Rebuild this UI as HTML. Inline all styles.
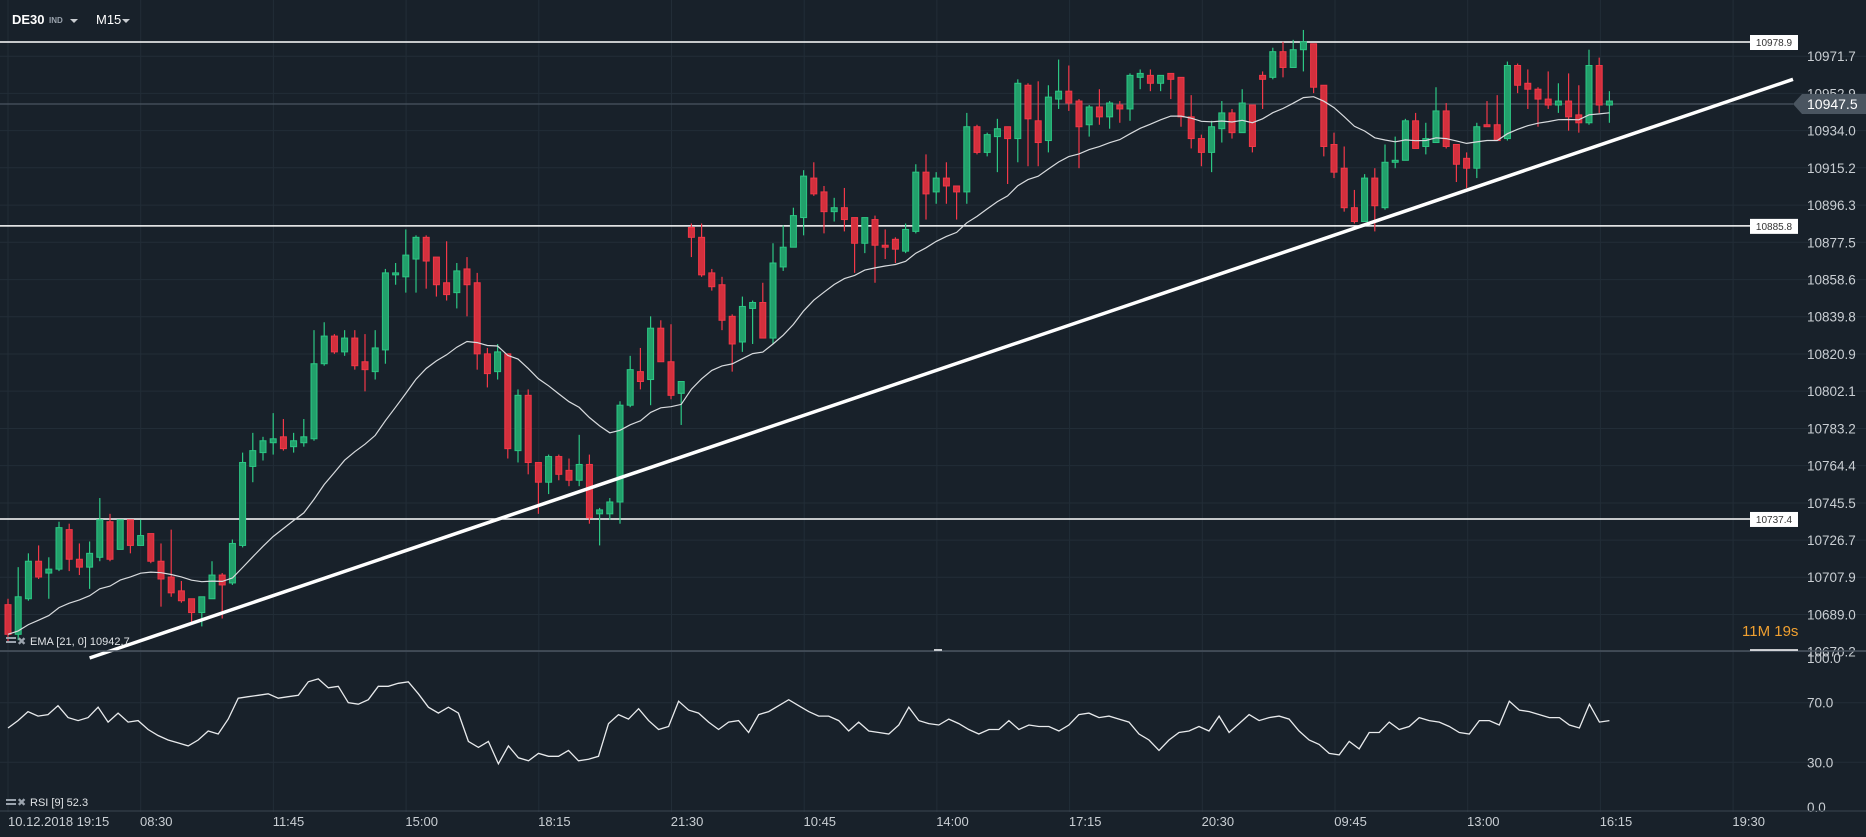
<!DOCTYPE html>
<html><head><meta charset="utf-8"><style>
html,body{margin:0;padding:0;background:#18212a;width:1866px;height:837px;overflow:hidden;font-family:"Liberation Sans",sans-serif}
svg{display:block}
</style></head><body>
<svg id="chart" width="1866" height="837" viewBox="0 0 1866 837" xmlns="http://www.w3.org/2000/svg">
<rect x="0" y="0" width="1866" height="837" fill="#18212a"/>
<g id="grid"></g>
<g id="hlines"></g>
<g id="candles"></g>
<g id="ema"></g>
<g id="trend"></g>
<g id="rsi"></g>
<g id="axes"></g>
<g>
<text x="12" y="24" fill="#ffffff" font-size="13" font-weight="bold">DE30</text>
<text x="49" y="23" fill="#9aa3ad" font-size="8" font-weight="bold">IND</text>
<path d="M70 19 L78 19 L74 23 Z" fill="#c8ccd0"/>
<text x="96" y="24" fill="#ffffff" font-size="13">M15</text>
<path d="M122 19 L130 19 L126 23 Z" fill="#c8ccd0"/>
</g>
<g>
<rect x="6" y="637" width="10" height="2" fill="#9aa3ad"/><rect x="6" y="641" width="10" height="2" fill="#9aa3ad"/>
<text x="17" y="645" fill="#9aa3ad" font-size="11">✖</text>
<text x="30" y="645" fill="#e0e3e6" font-size="11">EMA  [21, 0]  10942.7</text>
</g>
<g>
<rect x="6" y="799" width="10" height="2" fill="#9aa3ad"/><rect x="6" y="803" width="10" height="2" fill="#9aa3ad"/>
<text x="17" y="806" fill="#9aa3ad" font-size="11">✖</text>
<text x="30" y="806" fill="#e0e3e6" font-size="11">RSI  [9]  52.3</text>
</g>
<text x="1742" y="636" fill="#f0a030" font-size="15">11M 19s</text>
</svg>
<script>
const opens=[10694,10679,10697,10716,10710,10712,10732,10717,10713,10718,10736,10722,10737,10724,10730,10716,10708,10701,10697,10690,10697,10709,10705,10724,10764,10771,10776,10779,10774,10776,10778,10816,10830,10822,10829,10817,10812,10823,10861,10860,10869,10880,10870,10857,10852,10864,10857,10821,10812,10821,10772,10800,10766,10756,10769,10762,10757,10765,10740,10740,10746,10795,10812,10808,10834,10817,10801,10885,10880,10862,10856,10840,10827,10844,10847,10829,10865,10875,10890,10910,10903,10893,10895,10890,10877,10889,10876,10879,10873,10883,10913,10903,10910,10906,10903,10936,10923,10931,10936,10930,10957,10939,10929,10950,10954,10949,10937,10946,10941,10947,10945,10961,10962,10958,10963,10961,10941,10930,10923,10935,10943,10933,10947,10962,10961,10974,10966,10975,10978,10957,10927,10915,10895,10888,10910,10895,10918,10919,10939,10926,10928,10944,10927,10920,10915,10937,10937,10930,10967,10958,10955,10950,10947,10949,10942,10938,10967,10947];
const highs=[10697,10713,10720,10724,10718,10736,10735,10725,10726,10748,10740,10737,10737,10737,10730,10725,10732,10706,10697,10698,10716,10710,10727,10771,10781,10779,10791,10788,10781,10788,10833,10837,10831,10833,10833,10831,10833,10864,10867,10884,10881,10881,10870,10878,10867,10870,10862,10824,10826,10821,10803,10803,10766,10770,10770,10768,10780,10770,10743,10748,10797,10820,10824,10840,10838,10836,10807,10887,10887,10864,10860,10841,10850,10848,10857,10877,10886,10895,10914,10918,10906,10900,10905,10890,10890,10891,10884,10880,10887,10917,10922,10913,10918,10906,10943,10937,10933,10940,10936,10960,10958,10959,10957,10970,10967,10950,10947,10955,10949,10949,10963,10965,10965,10962,10963,10961,10952,10932,10939,10949,10945,10955,10947,10964,10976,10979,10980,10985,10978,10957,10933,10926,10904,10912,10915,10927,10931,10940,10943,10938,10956,10948,10927,10923,10938,10949,10952,10969,10968,10965,10956,10964,10958,10963,10957,10975,10971,10954];
const lows=[10675,10676,10696,10707,10697,10711,10711,10709,10702,10716,10716,10722,10720,10724,10715,10693,10698,10695,10684,10683,10697,10687,10704,10723,10756,10767,10770,10772,10771,10774,10777,10815,10821,10820,10813,10802,10808,10816,10856,10852,10852,10854,10850,10848,10844,10840,10813,10804,10808,10768,10766,10760,10740,10750,10757,10754,10754,10735,10724,10737,10735,10794,10803,10795,10817,10798,10785,10870,10860,10853,10833,10812,10822,10826,10829,10826,10863,10875,10881,10901,10882,10888,10883,10862,10872,10857,10869,10867,10872,10882,10889,10897,10897,10889,10897,10922,10921,10913,10907,10918,10916,10916,10923,10945,10944,10915,10931,10937,10935,10938,10939,10955,10954,10954,10950,10936,10925,10916,10913,10928,10930,10933,10923,10945,10960,10961,10966,10964,10953,10921,10910,10893,10887,10888,10883,10894,10915,10919,10925,10922,10928,10925,10908,10905,10910,10936,10929,10929,10953,10945,10936,10945,10943,10934,10933,10937,10943,10938];
const closes=[10679,10698,10716,10708,10712,10733,10717,10713,10720,10737,10717,10737,10724,10729,10716,10707,10700,10696,10690,10698,10709,10704,10725,10766,10772,10777,10778,10773,10777,10779,10816,10830,10822,10829,10815,10813,10824,10862,10862,10871,10880,10868,10856,10851,10863,10856,10821,10811,10822,10773,10800,10766,10756,10769,10760,10757,10765,10738,10742,10746,10795,10813,10807,10834,10817,10800,10807,10880,10861,10855,10838,10826,10845,10847,10829,10867,10875,10891,10911,10902,10893,10895,10889,10877,10890,10876,10875,10874,10884,10913,10902,10910,10906,10903,10936,10923,10932,10935,10930,10958,10940,10928,10951,10954,10948,10936,10946,10941,10948,10945,10962,10963,10958,10962,10960,10941,10930,10923,10936,10943,10933,10948,10926,10960,10974,10966,10975,10979,10956,10926,10913,10895,10888,10910,10896,10918,10919,10939,10925,10930,10944,10926,10917,10915,10936,10936,10929,10967,10957,10955,10950,10947,10949,10941,10938,10967,10947,10949];
const rsiValues=[53,58,64,61,62,68,60,58,60,67,57,63,57,58,52,48,45,43,41,45,51,49,59,73,74,75,76,73,74,75,84,86,80,81,70,69,72,81,81,83,84,76,67,63,67,63,44,40,44,29,41,33,31,36,34,34,38,31,32,34,56,62,59,66,58,52,54,71,65,63,57,52,57,58,50,62,64,68,72,68,64,61,61,58,51,57,51,50,49,55,67,58,56,55,59,56,52,49,52,52,58,52,55,54,54,51,55,62,63,60,61,59,57,49,45,38,45,50,51,54,51,61,50,56,62,58,60,61,59,51,45,42,36,35,44,39,50,50,57,52,54,60,58,57,54,50,49,58,58,55,71,65,64,62,60,60,55,53,69,57,58];
const priceTicks=[10971.7,10952.9,10934.0,10915.2,10896.3,10877.5,10858.6,10839.8,10820.9,10802.1,10783.2,10764.4,10745.5,10726.7,10707.9,10689.0,10670.2];
const rsiTicks=[100.0,70.0,30.0,0.0];
const timeLabels=["08:30","11:45","15:00","18:15","21:30","10:45","14:00","17:15","20:30","09:45","13:00","16:15","19:30"];
const levelLines=[10978.9,10885.8,10737.4];
const trendStart=[8,10667];
const trendEnd=[175,10960];
const lastPrice=10947.5;
const emaPeriod=21;

const NS="http://www.w3.org/2000/svg";
function mk(tag,attrs,parent){const e=document.createElementNS(NS,tag);for(const k in attrs)e.setAttribute(k,attrs[k]);parent.appendChild(e);return e;}
const yP=p=>42+(10978.9-p)*1.975;
const xI=i=>8+i*10.2;
const yR=v=>807-v*1.49;
const G=document.getElementById('grid'),H=document.getElementById('hlines'),C=document.getElementById('candles'),E=document.getElementById('ema'),T=document.getElementById('trend'),R=document.getElementById('rsi'),A=document.getElementById('axes');

for(let k=0;k<14;k++){const x=8+k*132.7;const l=mk('line',{x1:x,y1:0,x2:x,y2:812,stroke:'#222d37','stroke-width':1},G);

}
priceTicks.forEach(p=>{const y=yP(p);const l=mk('line',{x1:0,y1:y,x2:1866,y2:y,stroke:'#222d37','stroke-width':1},G);


const t=mk('text',{x:1807,y:y+5,fill:'#c9ced3','font-size':13.5},A);t.textContent=p.toFixed(1);

});
rsiTicks.forEach(v=>{const y=yR(v);if(v>0&&v<100){const l=mk('line',{x1:0,y1:y,x2:1866,y2:y,stroke:'#222d37','stroke-width':1},G);

}
const t=mk('text',{x:1807,y:y+5,fill:'#c9ced3','font-size':13.5},A);t.textContent=v.toFixed(1);

});
let s=mk('line',{x1:0,y1:651,x2:1866,y2:651,stroke:'#4a5560','stroke-width':1.5},A);


s=mk('line',{x1:0,y1:811,x2:1866,y2:811,stroke:'#3a4550','stroke-width':1},A);


s=mk('line',{x1:1750,y1:650,x2:1798,y2:650,stroke:'#ffffff','stroke-width':1.5},A);


s=mk('rect',{x:934,y:649,width:8,height:2,fill:'#c8ccd0'},A);


let tt=mk('text',{x:8,y:826,fill:'#c9ced3','font-size':13},A);tt.textContent='10.12.2018  19:15';


timeLabels.forEach((lab,k)=>{const t=mk('text',{x:140+k*132.7,y:826,fill:'#c9ced3','font-size':13},A);t.textContent=lab;

});
const ly=yP(lastPrice);
s=mk('line',{x1:0,y1:ly,x2:1793,y2:ly,stroke:'#4a5560','stroke-width':1.2},H);


s=mk('path',{d:`M1793 ${ly} L1802 ${ly-10} L1866 ${ly-10} L1866 ${ly+10} L1802 ${ly+10} Z`,fill:'#4a5560'},A);


s=mk('text',{x:1807,y:ly+5,fill:'#ffffff','font-size':14},A);s.textContent=lastPrice.toFixed(1);


levelLines.forEach(p=>{const y=yP(p);const l=mk('line',{x1:0,y1:y,x2:1750,y2:y,stroke:'#ffffff','stroke-width':1.5},H);


const b=mk('rect',{x:1750,y:y-7,width:48,height:15,fill:'#ffffff'},H);


const t=mk('text',{x:1774,y:y+4,fill:'#333','font-size':10,'text-anchor':'middle'},H);t.textContent=p.toFixed(1);

});
for(let i=0;i<closes.length;i++){const x=xI(i),o=opens[i],c=closes[i],up=c>=o;
const fill=up?'#22a06b':'#d3303d',st=up?'#2cc784':'#f23848';
const w=mk('line',{x1:x,y1:yP(highs[i]),x2:x,y2:yP(lows[i]),stroke:st,'stroke-width':1.2},C);


const top=yP(Math.max(o,c)),bot=yP(Math.min(o,c));
const b=mk('rect',{x:x-3,y:top,width:6,height:Math.max(1.5,bot-top),fill:fill,stroke:st,'stroke-width':1},C);

}
const k=2/(emaPeriod+1);let ev=closes[0];const ep=[];
closes.forEach((c,i)=>{ev=i?c*k+ev*(1-k):c;ep.push(xI(i).toFixed(1)+','+yP(ev).toFixed(1));});
s=mk('polyline',{points:ep.join(' '),fill:'none',stroke:'#d8dbde','stroke-width':1.2},E);


s=mk('line',{x1:xI(trendStart[0]),y1:yP(trendStart[1]),x2:xI(trendEnd[0]),y2:yP(trendEnd[1]),stroke:'#ffffff','stroke-width':3.5},T);


const step=(xI(closes.length-1)-xI(0))/(rsiValues.length-1);
const rp=rsiValues.map((v,i)=>(xI(0)+i*step).toFixed(1)+','+yR(v).toFixed(1));
s=mk('polyline',{points:rp.join(' '),fill:'none',stroke:'#e8eaec','stroke-width':1.3},R);


</script>
</body></html>
